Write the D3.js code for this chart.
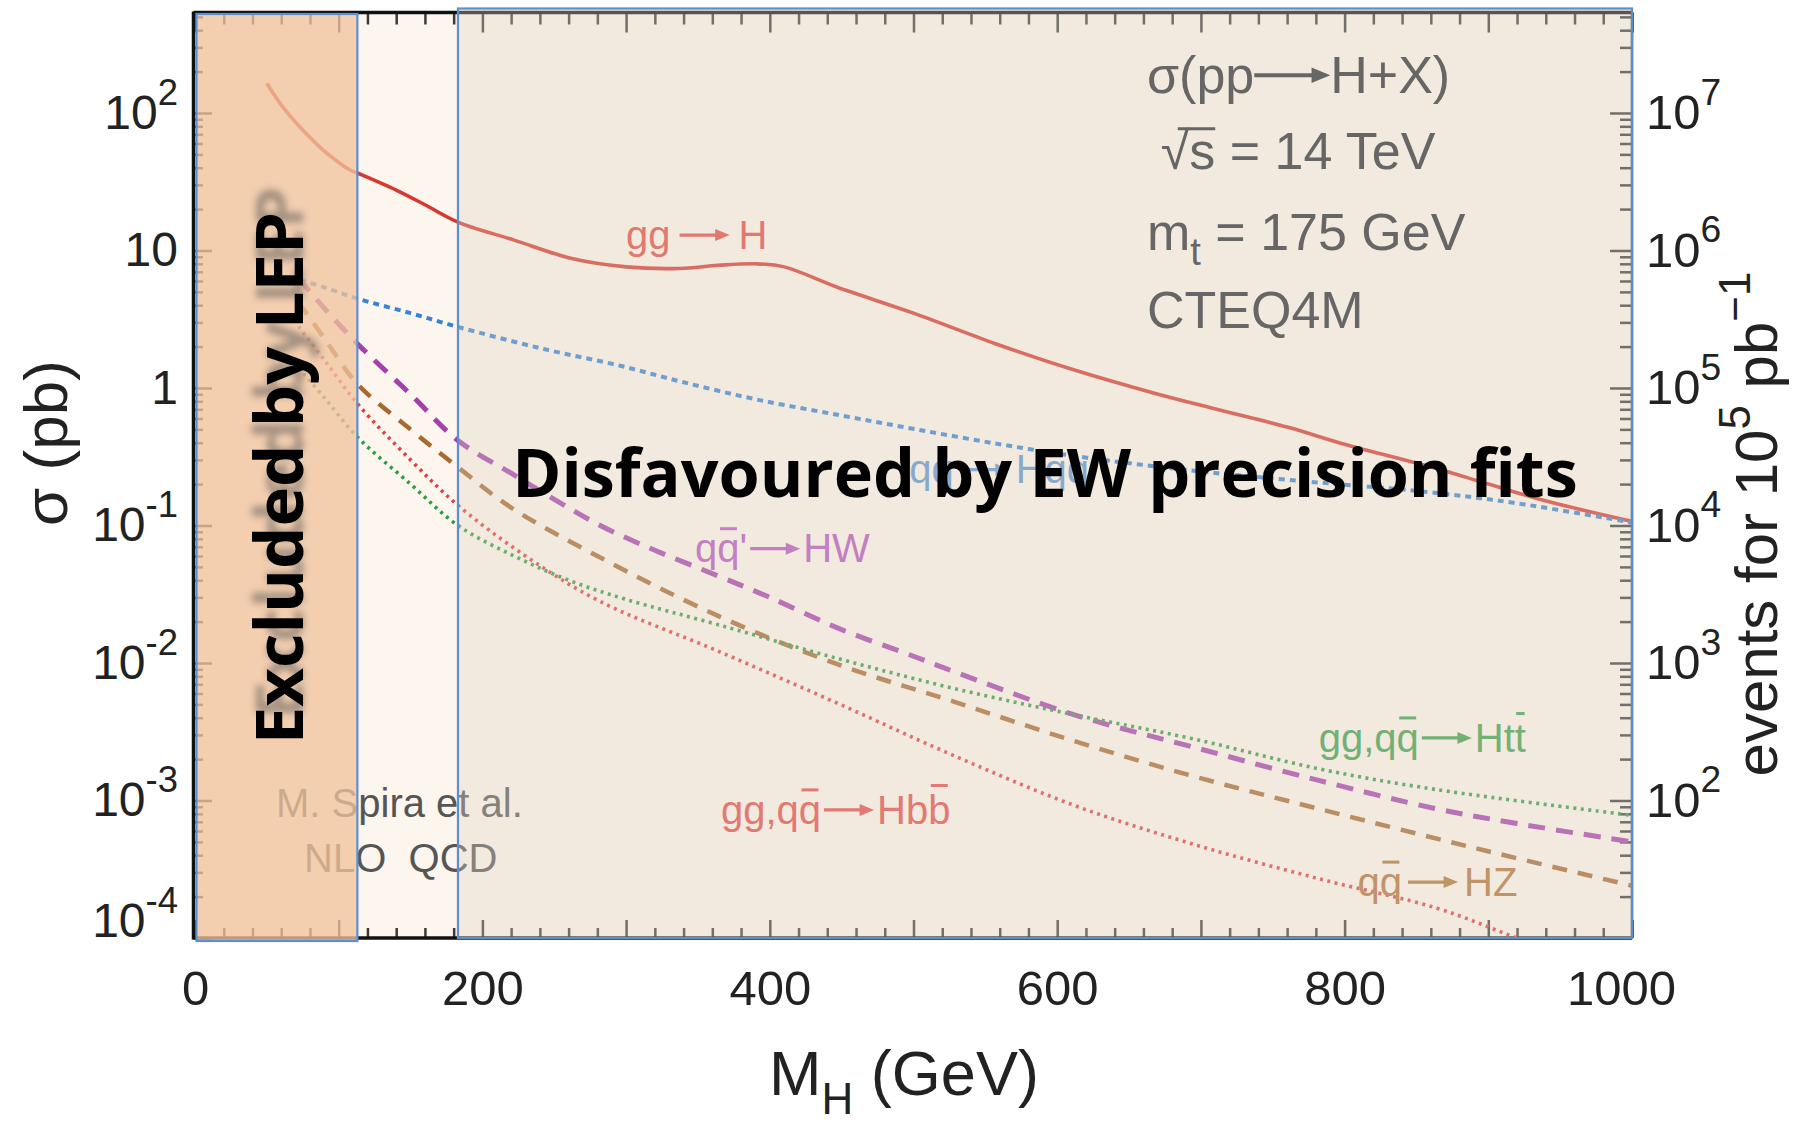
<!DOCTYPE html>
<html>
<head>
<meta charset="utf-8">
<script src="https://cdn.jsdelivr.net/npm/d3@7"></script>
<style>
  body { margin: 0; background: #fff; }
  svg { display: block; font-family: "Liberation Sans", Arial, sans-serif; }
</style>
</head>
<body>
<svg id="chart"></svg>
<script>
// SM Higgs production cross sections, pp at 14 TeV
const ggH_mass  = [50, 61, 73, 89, 108, 113, 140, 160, 183, 222, 263, 300, 337, 364, 390, 410, 447, 500, 557, 612, 667, 711, 760, 800, 864, 900, 941, 1000];
const ggH_sigma = [164, 111, 79, 54, 38.5, 36.6, 27.5, 21.5, 16.1, 11.9, 8.7, 7.6, 7.4, 7.8, 8.0, 7.6, 5.4, 3.5, 2.1, 1.35, 0.92, 0.7, 0.52, 0.39, 0.26, 0.2, 0.15, 0.107];

const qqHqq_mass  = [73, 90, 113, 150, 183, 240, 296, 340, 392, 450, 502, 560, 612, 695, 760, 858, 920, 1000];
const qqHqq_sigma = [6.1, 5.4, 4.47, 3.5, 2.78, 1.95, 1.45, 1.1, 0.82, 0.63, 0.5, 0.39, 0.32, 0.25, 0.215, 0.175, 0.145, 0.105];

const HW_mass  = [72, 90, 113, 150, 183, 220, 250, 282, 320, 364, 400, 447, 500, 529, 612, 695, 782, 864, 920, 1000];
const HW_sigma = [6.3, 3.8, 2.1, 0.9, 0.415, 0.24, 0.155, 0.1, 0.066, 0.043, 0.03, 0.018, 0.0112, 0.0086, 0.0042, 0.00244, 0.0014, 0.00087, 0.00068, 0.0005];

const HZ_mass  = [72, 90, 113, 150, 183, 220, 280, 364, 447, 529, 612, 695, 782, 891, 1000];
const HZ_sigma = [4.2, 2.3, 1.07, 0.5, 0.265, 0.135, 0.06, 0.022, 0.0098, 0.0052, 0.0027, 0.0015, 0.00087, 0.00045, 0.00024];

const Hbb_mass  = [72, 90, 113, 150, 183, 230, 282, 364, 447, 529, 612, 695, 782, 864, 920, 1000];
const Hbb_sigma = [2.8, 1.6, 0.77, 0.3, 0.14, 0.06, 0.028, 0.0122, 0.0051, 0.0021, 0.00092, 0.00048, 0.00027, 0.000165, 0.0001, 0.00005];

const Htt_mass  = [72, 90, 113, 150, 183, 222, 260, 300, 364, 447, 529, 612, 695, 782, 864, 1000];
const Htt_sigma = [1.4, 0.85, 0.44, 0.2, 0.1, 0.06, 0.04, 0.029, 0.019, 0.0108, 0.0065, 0.0042, 0.0028, 0.0017, 0.0012, 0.00078];

const xTickLabels = [0, 200, 400, 600, 800, 1000];
const sigmaTickExps = [-4, -3, -2, -1, 0, 1, 2];
const eventTickExps = [2, 3, 4, 5, 6, 7];
const lumiExp = 5;          // events for 10^5 pb^-1
const lepLimit = 113;       // GeV
const ewLimit = 183;        // GeV
const sigmaMax = 538;

const width = 1817, height = 1125;
const margin = { top: 12.5, right: 185, bottom: 187, left: 195 };
const plotW = width - margin.left - margin.right;
const plotH = height - margin.top - margin.bottom;

const x = d3.scaleLinear().domain([0, 1000]).range([0, plotW]);
const y = d3.scaleLog().domain([1e-4, sigmaMax]).range([plotH, 0]);

const svg = d3.select('#chart')
    .attr('width', width)
    .attr('height', height)
    .attr('viewBox', [0, 0, width, height]);

const defs = svg.append('defs');
defs.append('clipPath').attr('id', 'plot-clip')
    .append('rect').attr('width', plotW).attr('height', plotH);
defs.append('filter').attr('id', 'ghost-blur')
    .attr('x', '-20%').attr('y', '-20%').attr('width', '140%').attr('height', '140%')
    .append('feGaussianBlur').attr('stdDeviation', 3.5);

svg.append('rect').attr('width', width).attr('height', height).attr('fill', '#fff');

const g = svg.append('g').attr('transform', `translate(${margin.left},${margin.top})`);

g.append('rect')
    .attr('width', plotW).attr('height', plotH)
    .attr('fill', '#fdf6ef');

// ---- axes (ticks point inward) ----
const minorX = d3.range(0, 1001, 20).filter(v => v % 100 !== 0);
const majorX = d3.range(0, 1001, 100);
const minorY = [];
for (let e = -4; e <= 2; e++) {
    for (let m = 2; m <= 9; m++) {
        const v = m * Math.pow(10, e);
        if (v <= sigmaMax) minorY.push(v);
    }
}
const majorY = sigmaTickExps.map(e => Math.pow(10, e));

function tickGroup(axis, transform) {
    const a = g.append('g').attr('transform', transform).call(axis);
    a.select('.domain').remove();
    a.selectAll('line').attr('stroke', '#3a3a3a').attr('stroke-width', 2.5);
    return a;
}

tickGroup(d3.axisBottom(x).tickValues(minorX).tickSizeInner(-10).tickFormat(''), `translate(0,${plotH})`);
const xAxis = tickGroup(d3.axisBottom(x).tickValues(majorX).tickSizeInner(-18).tickPadding(32)
    .tickFormat(d => xTickLabels.includes(d) ? d : ''), `translate(0,${plotH})`);
xAxis.selectAll('text')
    .attr('fill', '#222')
    .style('font-size', '49px')
    .attr('dx', d => d === 1000 ? -11 : 0);

tickGroup(d3.axisTop(x).tickValues(minorX).tickSizeInner(-12).tickFormat(''), 'translate(0,0)');
tickGroup(d3.axisTop(x).tickValues(majorX).tickSizeInner(-20).tickFormat(''), 'translate(0,0)');

function powerLabel(text, exp, size) {
    text.text(null);
    if (exp === 0) { text.append('tspan').text('1'); return; }
    if (exp === 1) { text.append('tspan').text('10'); return; }
    text.append('tspan').text('10');
    text.append('tspan')
        .attr('dy', -0.5 * size)
        .style('font-size', (0.76 * size) + 'px')
        .text(String(exp));
}

tickGroup(d3.axisLeft(y).tickValues(minorY).tickSizeInner(-8).tickFormat(''), 'translate(0,0)');
const yAxis = tickGroup(d3.axisLeft(y).tickValues(majorY).tickSizeInner(-17).tickPadding(17), 'translate(0,0)');
yAxis.selectAll('text')
    .attr('fill', '#222')
    .style('font-size', '48px')
    .each(function (d) {
        const exp = Math.round(Math.log10(d));
        const t = d3.select(this);
        powerLabel(t, exp, 48);
        if (exp === -4) t.attr('y', -17);
    });

tickGroup(d3.axisRight(y).tickValues(minorY).tickSizeInner(-12).tickFormat(''), `translate(${plotW},0)`);
const yAxisR = tickGroup(d3.axisRight(y)
    .tickValues(eventTickExps.map(e => Math.pow(10, e - lumiExp)))
    .tickSizeInner(-22).tickPadding(14), `translate(${plotW},0)`);
yAxisR.selectAll('text')
    .attr('fill', '#222')
    .style('font-size', '49px')
    .each(function (d) {
        powerLabel(d3.select(this), Math.round(Math.log10(d)) + lumiExp, 49);
    });

// frame
g.append('line').attr('x1', -1.5).attr('x2', -1.5).attr('y1', -1).attr('y2', plotH + 1.5)
    .attr('stroke', '#111').attr('stroke-width', 3.5);
g.append('line').attr('x1', -1.5).attr('x2', plotW).attr('y1', plotH).attr('y2', plotH)
    .attr('stroke', '#111').attr('stroke-width', 3.5);
g.append('line').attr('x1', -1.5).attr('x2', plotW).attr('y1', 0).attr('y2', 0)
    .attr('stroke', '#111').attr('stroke-width', 3.5);
g.append('line').attr('x1', plotW).attr('x2', plotW).attr('y1', 0).attr('y2', plotH)
    .attr('stroke', '#333').attr('stroke-width', 2.5);

// ---- curves ----
const series = [
    { mass: ggH_mass,   sigma: ggH_sigma,   color: '#d8382f', width: 3.6, dash: null },
    { mass: qqHqq_mass, sigma: qqHqq_sigma, color: '#3485d7', width: 4,   dash: '6,5' },
    { mass: HW_mass,    sigma: HW_sigma,    color: '#a53fae', width: 5,   dash: '17,11' },
    { mass: HZ_mass,    sigma: HZ_sigma,    color: '#a8692f', width: 4.5, dash: '15,11' },
    { mass: Htt_mass,   sigma: Htt_sigma,   color: '#2f9b3f', width: 3.6, dash: '3,4.5' },
    { mass: Hbb_mass,   sigma: Hbb_sigma,   color: '#e23f3e', width: 3.6, dash: '3,4.5' }
];

const line = d3.line()
    .x(d => x(d[0]))
    .y(d => y(d[1]))
    .curve(d3.curveCatmullRom.alpha(0.5));

const curves = g.append('g').attr('clip-path', 'url(#plot-clip)');
series.forEach(s => {
    curves.append('path')
        .datum(d3.zip(s.mass, s.sigma))
        .attr('d', line)
        .attr('fill', 'none')
        .attr('stroke', s.color)
        .attr('stroke-width', s.width)
        .attr('stroke-dasharray', s.dash);
});

// ---- curve labels ----
function overbar(parent, textSel, i, size, lift, color) {
    const e = textSel.node().getExtentOfChar(i);
    parent.append('line')
        .attr('x1', e.x + e.width * 0.12).attr('x2', e.x + e.width * 0.88)
        .attr('y1', -size * lift).attr('y2', -size * lift)
        .attr('stroke', color).attr('stroke-width', size * 0.075);
}

function arrowLabel(parent, m, s, left, right, o) {
    const lg = parent.append('g')
        .attr('transform', `translate(${x(m)},${y(s)})`)
        .attr('fill', o.color)
        .style('font-size', o.size + 'px');
    const t1 = lg.append('text').text(left);
    const w1 = t1.node().getComputedTextLength();
    const a0 = w1 + o.gap, a1 = a0 + o.len;
    const ay = -o.size * 0.34;
    const hw = o.size * 0.15;
    lg.append('line')
        .attr('x1', a0).attr('x2', a1 - hw * 1.5)
        .attr('y1', ay).attr('y2', ay)
        .attr('stroke', o.color).attr('stroke-width', o.size * 0.08);
    lg.append('path')
        .attr('d', `M${a1},${ay}L${a1 - hw * 2.4},${ay - hw}L${a1 - hw * 2.4},${ay + hw}Z`);
    const t2 = lg.append('text').attr('x', a1 + o.gap).text(right);
    (o.barsLeft || []).forEach(b => overbar(lg, t1, b[0], o.size, b[1], o.color));
    (o.barsRight || []).forEach(b => overbar(lg, t2, b[0], o.size, b[1], o.color));
    return lg;
}

const labels = g.append('g');
arrowLabel(labels, 300, 10.3, 'gg', 'H', { color: '#e54a44', size: 40, gap: 9, len: 50 });
arrowLabel(labels, 348, 0.054, "qq'", 'HW', { color: '#b453c0', size: 40, gap: 3, len: 50,
    barsLeft: [[1, 0.84]] });
arrowLabel(labels, 366, 6.8e-4, 'gg,qq', 'Hbb', { color: '#e54a48', size: 40, gap: 3, len: 50,
    barsLeft: [[4, 0.84]], barsRight: [[2, 0.95]] });
arrowLabel(labels, 782, 2.27e-3, 'gg,qq', 'Htt', { color: '#3aa04a', size: 40, gap: 3, len: 50,
    barsLeft: [[4, 0.84]], barsRight: [[2, 0.95]] });
arrowLabel(labels, 809, 2.03e-4, 'qq', 'HZ', { color: '#b07336', size: 40, gap: 6, len: 50,
    barsLeft: [[1, 0.84]] });
arrowLabel(labels, 497, 0.203, 'qq', 'Hqq', { color: '#5a96d2', size: 40, gap: 6, len: 50 });

labels.append('text')
    .attr('x', x(56.4)).attr('y', y(7.6e-4))
    .attr('fill', '#555').style('font-size', '40px')
    .text('M. Spira et al.');
labels.append('text')
    .attr('x', x(75.9)).attr('y', y(3.0e-4))
    .attr('fill', '#555').style('font-size', '40px')
    .attr('xml:space', 'preserve')
    .text('NLO  QCD');

// ---- shaded regions ----
const regions = [
    { from: 0, to: lepLimit, fill: '#efc39c', opacity: 0.78, dTop: 1.5, dBottom: 3, dLeft: 1.5 },
    { from: ewLimit, to: 1000, fill: '#ddd1c4', opacity: 0.35, dTop: -4, dBottom: 0, dLeft: 0 }
];
regions.forEach(r => {
    const rx = x(r.from) + r.dLeft, ry = r.dTop;
    const rw = x(r.to) - rx, rh = plotH + r.dBottom - r.dTop;
    g.append('rect')
        .attr('x', rx).attr('y', ry).attr('width', rw).attr('height', rh)
        .attr('fill', r.fill).attr('fill-opacity', r.opacity);
    g.append('rect')
        .attr('x', rx).attr('y', ry).attr('width', rw).attr('height', rh)
        .attr('fill', 'none').attr('stroke', '#5b8fd3').attr('stroke-width', 2.2);
});

// ---- process info ----
const infoColor = '#666';
const info = g.append('g').attr('fill', infoColor).style('font-size', '52px');
arrowLabel(info, 662.5, 140, 'σ(pp ', 'H+X)', { color: infoColor, size: 52, gap: 0, len: 76 });
const rootS = info.append('text').attr('x', x(672)).attr('y', y(39)).text('√s = 14 TeV');
{
    const e0 = rootS.node().getExtentOfChar(1);
    const e1 = rootS.node().getExtentOfChar(0);
    info.append('line')
        .attr('x1', e1.x + e1.width * 0.6).attr('x2', e0.x + e0.width)
        .attr('y1', y(39) - 52 * 0.78).attr('y2', y(39) - 52 * 0.78)
        .attr('stroke', infoColor).attr('stroke-width', 3);
}
const mt = info.append('text').attr('x', x(662.5)).attr('y', y(10));
mt.append('tspan').text('m');
mt.append('tspan').attr('dy', 15).style('font-size', '38px').text('t');
mt.append('tspan').attr('dy', -15).text(' = 175 GeV');
info.append('text').attr('x', x(662.5)).attr('y', y(2.72)).text('CTEQ4M');

// ---- region captions ----
const capFont = '"Open Sans", "DejaVu Sans", sans-serif';
g.append('text')
    .attr('transform', `translate(${108},${440}) rotate(-90)`)
    .attr('text-anchor', 'middle')
    .attr('fill', '#555').attr('opacity', 0.5)
    .attr('filter', 'url(#ghost-blur)')
    .style('font-family', capFont).style('font-weight', 700).style('font-size', '67px')
    .text('Excluded by LEP');
g.append('text')
    .attr('transform', `translate(${108},${465.5}) rotate(-90)`)
    .attr('text-anchor', 'middle')
    .attr('fill', '#000')
    .style('font-family', capFont).style('font-weight', 700).style('font-size', '67px')
    .text('Excluded by LEP');
g.append('text')
    .attr('x', 850).attr('y', 484.5)
    .attr('text-anchor', 'middle')
    .attr('fill', '#000')
    .style('font-family', capFont).style('font-weight', 700).style('font-size', '66.5px')
    .text('Disfavoured by EW precision fits');

// ---- axis titles ----
svg.append('text')
    .attr('transform', 'translate(67,443) rotate(-90)')
    .attr('text-anchor', 'middle')
    .attr('fill', '#222').style('font-size', '62px')
    .text('σ (pb)');

const evt = svg.append('text')
    .attr('transform', 'translate(1777,524) rotate(-90)')
    .attr('text-anchor', 'middle')
    .attr('fill', '#222').style('font-size', '60px');
evt.append('tspan').text('events for 10');
evt.append('tspan').attr('dy', -27).style('font-size', '44px').text('5');
evt.append('tspan').attr('dy', 27).text(' pb');
evt.append('tspan').attr('dy', -27).style('font-size', '44px').text('\u22121');

const xt = svg.append('text')
    .attr('x', 904).attr('y', 1095)
    .attr('text-anchor', 'middle')
    .attr('fill', '#222').style('font-size', '63px');
xt.append('tspan').text('M');
xt.append('tspan').attr('dy', 19).style('font-size', '44px').text('H');
xt.append('tspan').attr('dy', -19).text(' (GeV)');
</script>
</body>
</html>
